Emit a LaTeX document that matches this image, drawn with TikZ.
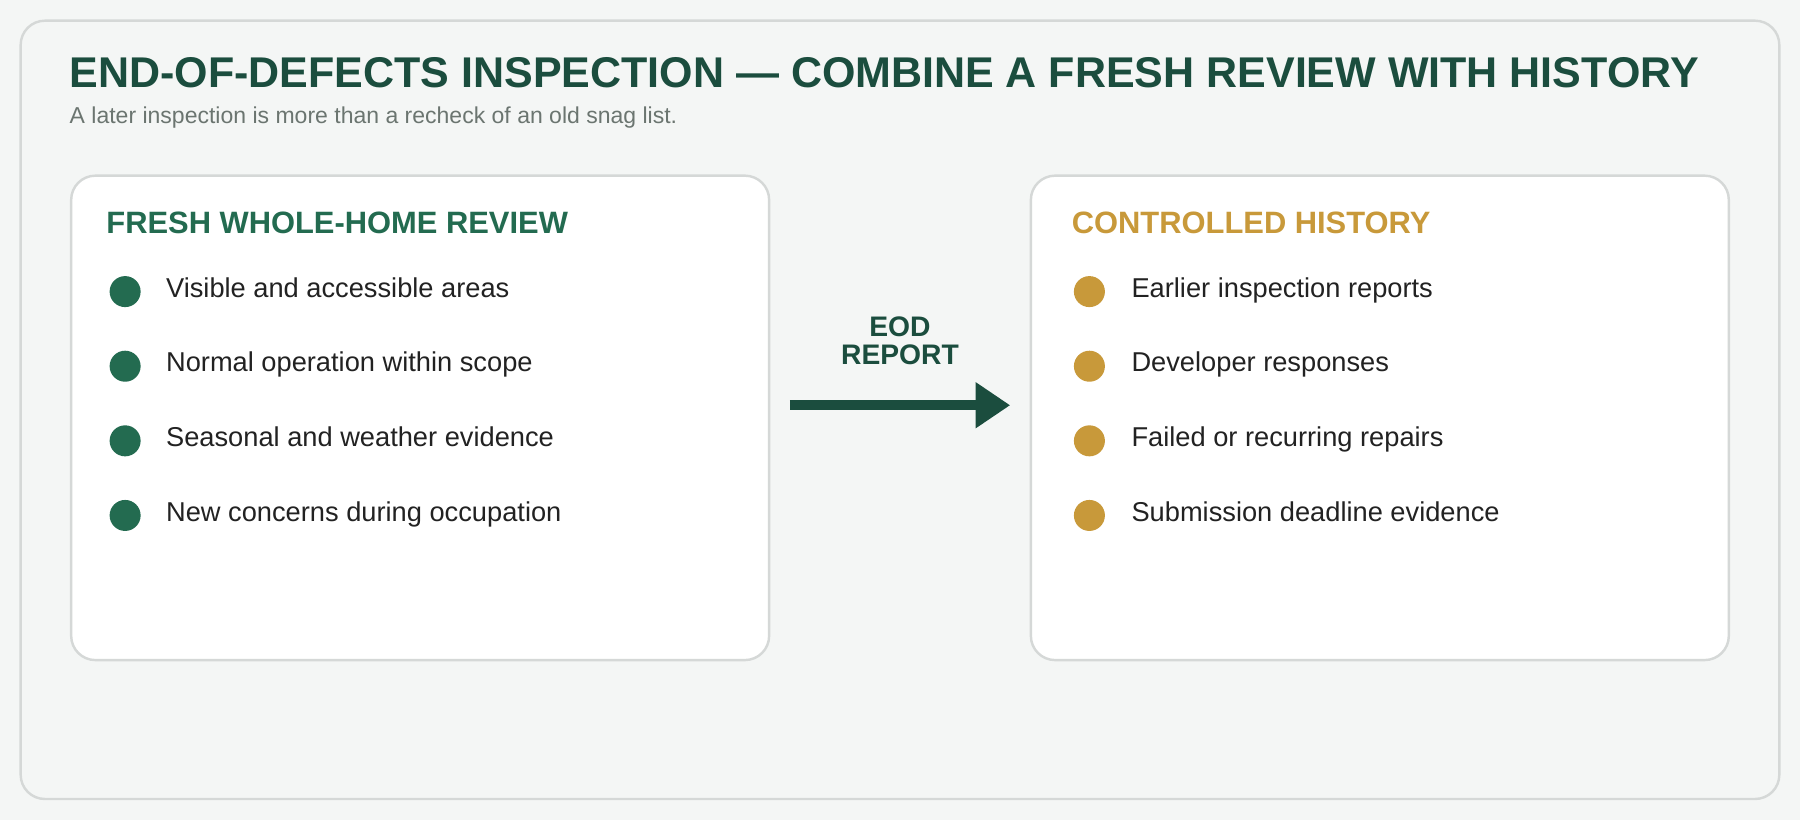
\documentclass[tikz,border=0pt]{standalone}
\usepackage{fontspec}
\setmainfont{Liberation Sans}
\usetikzlibrary{positioning, arrows.meta}
\definecolor{titlegreen}{HTML}{1B4D3E}
\definecolor{leafgreen}{HTML}{236B50}
\definecolor{gold}{HTML}{C8993A}
\definecolor{subgray}{HTML}{6B7570}
\definecolor{pagebg}{HTML}{F4F6F5}
\definecolor{rim}{HTML}{D5D8D7}
\definecolor{ink}{HTML}{222222}
\newcommand{\pxfont}[1]{\fontsize{#1}{#1}\selectfont}

\begin{document}
\begin{tikzpicture}[x=0.01cm,y=-0.01cm,
    card/.style={draw=rim,line width=0.6pt,fill=white,rounded corners=6pt},
    head/.style={anchor=base west,inner sep=0pt,font=\pxfont{7.65pt}\bfseries},
    item/.style={anchor=base west,inner sep=0pt,font=\pxfont{6.75pt},text=ink},
    dot/.style={circle,inner sep=0pt,minimum size=0.27cm}]

\useasboundingbox (0,0) rectangle (1568,714);
\fill[pagebg] (0,0) rectangle (1568,714);
\draw[rim,line width=0.6pt,fill=pagebg,rounded corners=6pt] (18,18) rectangle (1550,696);

\node[anchor=base west,inner sep=0pt,font=\pxfont{10.65pt}\bfseries,text=titlegreen] (title) at (60,76)
    {END-OF-DEFECTS INSPECTION — COMBINE A FRESH REVIEW WITH HISTORY};
\node[anchor=base west,inner sep=0pt,font=\pxfont{5.7pt},text=subgray] (subtitle) at (60,108)
    {A later inspection is more than a recheck of an old snag list.};

\draw[card] (62,153) rectangle (670,575);
\draw[card] (898,153) rectangle (1506,575);

\node[head,text=leafgreen] (fresh) at (92,203) {FRESH WHOLE-HOME REVIEW};
\node[head,text=gold] (hist) at (933,203) {CONTROLLED HISTORY};

\foreach \t [count=\i] in {Visible and accessible areas,Normal operation within scope,Seasonal and weather evidence,New concerns during occupation}{
  \node[dot,fill=leafgreen] (ld\i) at (109,189+65*\i) {};
  \node[item] (lt\i) at (144,194+65*\i) {\t};
}
\foreach \t [count=\i] in {Earlier inspection reports,Developer responses,Failed or recurring repairs,Submission deadline evidence}{
  \node[dot,fill=gold] (rd\i) at (949,189+65*\i) {};
  \node[item] (rt\i) at (985,194+65*\i) {\t};
}

\coordinate (arrA) at (688,353);
\coordinate (arrB) at (880,353);
\draw[titlegreen,line width=2.6pt,-{Triangle[length=0.3cm,width=0.38cm]}] (arrA) -- (arrB);
\node[font=\pxfont{7pt}\bfseries,text=titlegreen,align=center] (eod) at (784,297) {EOD\\REPORT};
\end{tikzpicture}
\end{document}
